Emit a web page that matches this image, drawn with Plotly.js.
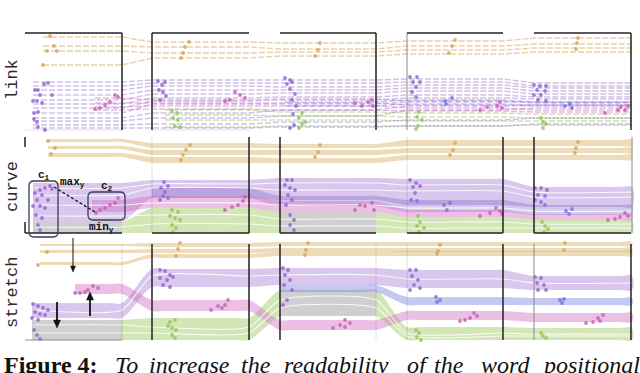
<!DOCTYPE html>
<html lang="en">
<head>
    <meta charset="UTF-8">
    <title>Word positional streams: link / curve / stretch</title>
    <script src="https://cdn.plot.ly/plotly-3.0.0.min.js" charset="utf-8"></script>
    <style>
        body { margin: 0; background: #fff; }
        #plot { width: 640px; height: 373px; }
    </style>
</head>
<body>
<div id="plot"></div>

<script>
    // Paragraph segments along the x axis
    const segStart = [25, 152, 280, 407, 534];
    const segEnd   = [122, 249, 376, 503, 632];

    // ---- link row: lane depth of each word per segment (null = not present)
    const linkTan = [
        [37, 42, 43, 41, 38],
        [46, 47, 49, 46, 44],
        [51, 53, 52, 50, 48],
        [65, 58, 56, 54, 52]
    ];
    const linkPurple = [
        [82, 80, 80, 79, 83],
        [86, 83, 83, 82, 86],
        [90, 86, 87, 85, 88],
        [95, 90, 90, 88, 91],
        [100, 94, 93, 91, 94],
        [104, 98, 97, 95, 97],
        [108, 101, 100, 98, 99],
        [113, 104, 104, 102, 102],
        [118, 113, 110, 106, 105],
        [121, 118, 116, 110, 108],
        [125, 124, 122, 120, 118],
        [128, 128, 127, 126, 124]
    ];
    const linkPink = [
        [98, 100, 99, 101, 103],
        [103, 103, 103, 105, 106],
        [107, 106, 106, 108, 110],
        [110, 109, 110, 111, 112]
    ];
    const linkGreen = [
        [null, 110, 112, 113, 114],
        [null, 115, 116, 117, 118],
        [null, 120, 120, 121, 121],
        [null, 127, 126, 126, 125]
    ];
    const linkBlue = [
        [null, null, 102, 100, 102],
        [null, null, 106, 104, 105]
    ];

    // word dots [x, depth]
    const linkDotsTan = [[50,36],[54,46],[57,51],[47,51],[43,65],[189,42],[185,47],[183,53],[181,58],
        [320,43],[318,50],[315,56],[455,40],[452,46],[449,53],[578,38],[577,43],[576,49]];
    const linkDotsPurple = [[48,83],[44,84],[38,90],[35,90],[40,95],[52,95],[33,101],[37,101],[42,103],
        [34,113],[38,112],[34,119],[37,122],[38,127],[45,130],[158,81],[165,82],[162,85],[159,90],
        [163,92],[166,96],[160,100],[285,78],[290,80],[287,84],[292,82],[290,89],[295,94],[292,100],
        [296,106],[293,114],[294,125],[290,128],[410,77],[417,77],[413,82],[420,82],[416,87],[412,92],
        [416,97],[534,85],[540,86],[546,86],[537,90],[545,91],[534,95],[541,95],[538,100],[546,101]];
    const linkDotsPink = [[115,95],[118,97],[110,102],[105,105],[100,108],[95,109],[235,92],[240,95],
        [245,98],[230,100],[225,101],[355,103],[362,106],[368,102],[372,100],[373,106],[500,102],
        [497,106],[502,108],[487,107],[480,110],[621,107],[625,110],[628,106],[618,110],[605,113]];
    const linkDotsGreen = [[172,111],[177,113],[173,118],[178,120],[175,126],[180,127],[302,113],
        [299,118],[302,124],[305,122],[299,128],[419,112],[417,117],[422,120],[418,126],[416,129],
        [541,118],[543,122],[546,124],[543,128]];
    const linkDotsBlue = [[445,101],[452,98],[446,104],[565,106],[570,104],[572,108]];

    // ---- curve row: band top / bottom depth per segment
    const curveTanTop = [[139, 143, 144, 140, 140], [146, 150, 150, 148, 148], [153, 157, 158, 155, 155]];
    const curveTanBot = [[142, 148, 148, 146, 146], [149, 155, 155, 153, 153], [157, 163, 163, 160, 160]];
    const curvePurpleTop = [183, 180, 178, 179, 187];
    const curvePurpleBot = [222, 198, 200, 205, 207];
    const curveVioletTop = [null, 188, 196, 200, 205];
    const curveVioletBot = [null, 198, 206, 212, 215];
    const curvePinkTop = [200, 196, 201, 210, 214];
    const curvePinkBot = [212, 208, 212, 217, 220];
    const curveGreenTop = [222, 208, 212, 217, 220];
    const curveGreenBot = [233, 233, 233, 233, 233];
    const curveGrayTop = [222, null, 212, null, null];
    const curveGrayBot = [233, null, 233, null, null];
    const curveLanes = [
        [188, 184, 183, 185, 192],
        [195, 188, 190, 191, 197],
        [205, 203, 205, 208, 211],
        [216, 215, 219, 222, 224],
        [227, 224, 226, 228, 228]
    ];

    const curveDotsTan = [[48,141],[55,148],[51,154],[190,145],[186,150],[183,155],[181,160],
        [320,145],[318,152],[315,157],[455,143],[453,150],[450,155],[578,142],[576,148],[575,153]];
    const curveDotsPurple = [[50,186],[45,188],[40,190],[52,189],[35,193],[42,195],[37,200],[48,200],
        [33,206],[40,206],[45,208],[36,215],[42,218],[38,225],[40,230],[164,182],[168,186],[161,188],
        [165,192],[163,196],[168,198],[160,200],[287,180],[292,180],[285,185],[290,188],[295,190],
        [288,195],[292,200],[286,205],[290,215],[294,220],[290,225],[294,230],[410,180],[416,183],
        [413,187],[420,186],[415,193],[411,200],[417,201],[535,188],[541,188],[547,190],[538,195],
        [545,196],[535,200],[541,202],[545,205]];
    const curveDotsPink = [[118,198],[115,203],[110,205],[105,208],[100,210],[96,213],[245,197],
        [243,201],[238,205],[232,207],[225,210],[360,205],[365,206],[372,203],[374,210],[355,210],
        [496,208],[500,211],[502,214],[490,213],[480,216],[625,213],[628,216],[620,217],[608,220],[615,219]];
    const curveDotsGreen = [[172,210],[178,212],[170,216],[175,218],[180,220],[172,225],[176,228],
        [173,232],[418,216],[420,222],[417,226],[424,228],[419,232],[542,222],[545,226],[548,229],[544,232]];
    const curveDotsBlue = [[444,205],[450,203],[447,210],[566,211],[572,209],[569,214]];

    // ---- stretch row
    const stretchTanTop = [[244, 243, 242, 242, 242], [250, 249, 248, 248, 248], [262, 254, 252, 251, 251]];
    const stretchTanBot = [[246, 247, 246, 246, 246], [253, 253, 252, 252, 252], [265, 258, 256, 256, 256]];
    const stretchPurpleTop = [303, 269, 268, 270, 276];
    const stretchPurpleBot = [318, 287, 285, 288, 290];
    const stretchPinkTop = [284, 300, 320, 311, 313];
    const stretchPinkBot = [294, 311, 330, 320, 322];
    const stretchGreenTop = [320, 318, 290, 327, 328];
    const stretchGreenBot = [340, 340, 316, 340, 340];
    const stretchGrayTop = [320, null, 290, null, null];
    const stretchGrayBot = [340, null, 316, null, null];
    const stretchBlueTop = [null, null, 285, 297, 298];
    const stretchBlueBot = [null, null, 292, 305, 305];
    const stretchLanes = [
        [310, 276, 275, 279, 283],
        [325, 327, 300, 333, 334],
        [333, 333, 308, 336, 336]
    ];

    const stretchDotsTan = [[47,252],[38,265],[180,243],[178,249],[176,256],[308,243],[306,250],
        [305,255],[440,245],[438,251],[437,254],[565,243],[564,250]];
    const stretchDotsPurple = [[33,304],[38,306],[43,308],[48,310],[35,312],[40,314],[45,315],[32,318],
        [38,320],[34,330],[37,335],[40,339],[160,270],[165,271],[170,275],[160,278],[167,280],[163,285],
        [170,287],[173,277],[283,268],[288,270],[285,275],[290,280],[284,285],[292,290],[287,300],
        [283,305],[410,270],[416,270],[412,276],[418,280],[414,285],[420,288],[410,290],[535,277],
        [541,278],[537,283],[544,285],[538,290],[546,290]];
    const stretchDotsPink = [[93,286],[98,288],[88,290],[85,292],[80,293],[75,293],[228,300],[225,305],
        [222,308],[218,306],[211,310],[345,320],[350,323],[345,327],[340,325],[333,328],[474,313],
        [477,316],[470,318],[465,320],[460,321],[603,315],[598,318],[600,321],[593,322],[586,323]];
    const stretchDotsGreen = [[170,322],[175,320],[168,326],[172,328],[176,330],[172,335],[175,338],
        [416,330],[419,333],[417,337],[421,340],[541,333],[543,336],[546,338]];
    const stretchDotsBlue = [[436,297],[440,300],[437,302],[560,300],[564,299],[562,303]];

    // caption words and their left edges
    const captionWords = ['To', 'increase', 'the', 'readability', 'of', 'the', 'word', 'positional'];
    const captionX = [113, 147, 239, 282, 405, 432, 479, 540];

    const COL = {
        tanBand: 'rgba(224,190,125,0.55)', tanLine: 'rgba(214,172,95,0.55)', tanDot: '#d6a85a',
        purpleBand: 'rgba(170,130,215,0.45)', purpleLine: 'rgba(145,105,205,0.42)', purpleDot: '#9467cf',
        violetBand: 'rgba(130,100,200,0.35)',
        pinkBand: 'rgba(210,115,195,0.45)', pinkLine: 'rgba(205,100,185,0.45)', pinkDot: '#c862b8',
        greenBand: 'rgba(165,205,110,0.5)', greenLine: 'rgba(150,195,95,0.5)', greenDot: '#97c55a',
        blueBand: 'rgba(125,135,225,0.45)', blueLine: 'rgba(115,125,220,0.45)', blueDot: '#7278d8',
        grayBand: 'rgba(205,205,208,0.92)'
    };

    const INSET = 12;

    // knots of one edge along consecutive segments i..j
    function edgeKnots(vals, i, j, x0) {
        const xs = [], ys = [];
        for (let k = i; k <= j; k++) {
            const a = (k === i && x0 != null) ? x0 : segStart[k];
            const b = segEnd[k];
            xs.push(a, a + INSET, b - INSET, b);
            ys.push(vals[k], vals[k], vals[k], vals[k]);
        }
        return { xs, ys };
    }

    function bandTraces(tops, bots, startX, color, axis) {
        const out = [];
        let i = 0, first = true;
        while (i < 5) {
            if (tops[i] == null) { i++; continue; }
            let j = i;
            while (j + 1 < 5 && tops[j + 1] != null) j++;
            const x0 = first ? startX : null;
            const t = edgeKnots(tops, i, j, x0);
            const b = edgeKnots(bots, i, j, x0);
            out.push({
                type: 'scatter', mode: 'lines', yaxis: axis,
                x: t.xs.concat(b.xs.slice().reverse()),
                y: t.ys.concat(b.ys.slice().reverse()),
                fill: 'toself', fillcolor: color,
                line: { width: 0, shape: j > i ? 'spline' : 'linear', smoothing: 1 },
                hoverinfo: 'skip', showlegend: false
            });
            first = false;
            i = j + 1;
        }
        return out;
    }

    function laneTrace(vals, startX, color, axis, opts) {
        let i = vals.findIndex(v => v != null);
        const xs = [], ys = [];
        for (let k = i; k < 5; k++) {
            xs.push(k === i && startX != null ? startX : segStart[k], segEnd[k]);
            ys.push(vals[k], vals[k]);
        }
        return Object.assign({
            type: 'scatter', mode: 'lines', yaxis: axis, x: xs, y: ys,
            line: { color: color, width: 1.4, dash: '6px,2px' },
            hoverinfo: 'skip', showlegend: false
        }, opts || {});
    }

    function dotTrace(pts, color, axis) {
        return {
            type: 'scatter', mode: 'markers', yaxis: axis,
            x: pts.map(p => p[0]), y: pts.map(p => p[1]),
            marker: { size: 3.8, color: color, opacity: 0.85 },
            cliponaxis: false, hoverinfo: 'skip', showlegend: false
        };
    }

    const traces = [];

    // link row
    linkGreen.forEach(l => traces.push(laneTrace(l, 165, COL.greenLine, 'y')));
    linkPurple.forEach(l => traces.push(laneTrace(l, 33, COL.purpleLine, 'y')));
    linkPink.forEach(l => traces.push(laneTrace(l, 95, COL.pinkLine, 'y')));
    linkBlue.forEach(l => traces.push(laneTrace(l, 285, COL.blueLine, 'y')));
    linkTan.forEach(l => traces.push(laneTrace(l, 43, COL.tanLine, 'y')));
    traces.push(dotTrace(linkDotsGreen, COL.greenDot, 'y'));
    traces.push(dotTrace(linkDotsPurple, COL.purpleDot, 'y'));
    traces.push(dotTrace(linkDotsPink, COL.pinkDot, 'y'));
    traces.push(dotTrace(linkDotsBlue, COL.blueDot, 'y'));
    traces.push(dotTrace(linkDotsTan, COL.tanDot, 'y'));

    // curve row
    traces.push(...bandTraces(curveGreenTop, curveGreenBot, 33, COL.greenBand, 'y2'));
    traces.push(...bandTraces(curveGrayTop, curveGrayBot, 33, COL.grayBand, 'y2'));
    traces.push(...bandTraces(curvePurpleTop, curvePurpleBot, 33, COL.purpleBand, 'y2'));
    traces.push(...bandTraces(curveVioletTop, curveVioletBot, null, COL.violetBand, 'y2'));
    traces.push(...bandTraces(curvePinkTop, curvePinkBot, 92, COL.pinkBand, 'y2'));
    curveTanTop.forEach((t, n) => traces.push(...bandTraces(t, curveTanBot[n], 48, COL.tanBand, 'y2')));
    curveLanes.forEach(l => traces.push(laneTrace(l, 35, 'rgba(255,255,255,0.85)', 'y2',
        { line: { color: 'rgba(255,255,255,0.85)', width: 1.1, shape: 'spline', smoothing: 0.6 } })));
    traces.push(dotTrace(curveDotsGreen, COL.greenDot, 'y2'));
    traces.push(dotTrace(curveDotsPurple, COL.purpleDot, 'y2'));
    traces.push(dotTrace(curveDotsPink, COL.pinkDot, 'y2'));
    traces.push(dotTrace(curveDotsBlue, COL.blueDot, 'y2'));
    traces.push(dotTrace(curveDotsTan, COL.tanDot, 'y2'));

    // stretch row
    traces.push(...bandTraces(stretchGreenTop, stretchGreenBot, 32, COL.greenBand, 'y3'));
    traces.push(...bandTraces(stretchGrayTop, stretchGrayBot, 32, COL.grayBand, 'y3'));
    traces.push(...bandTraces(stretchPurpleTop, stretchPurpleBot, 32, COL.purpleBand, 'y3'));
    traces.push(...bandTraces(stretchBlueTop, stretchBlueBot, null, COL.blueBand, 'y3'));
    traces.push(...bandTraces(stretchPinkTop, stretchPinkBot, 75, COL.pinkBand, 'y3'));
    stretchTanTop.forEach((t, n) => traces.push(...bandTraces(t, stretchTanBot[n], 40, COL.tanBand, 'y3')));
    stretchLanes.forEach(l => traces.push(laneTrace(l, 34, 'rgba(255,255,255,0.85)', 'y3',
        { line: { color: 'rgba(255,255,255,0.85)', width: 1.1, shape: 'spline', smoothing: 0.6 } })));
    traces.push(dotTrace(stretchDotsGreen, COL.greenDot, 'y3'));
    traces.push(dotTrace(stretchDotsPurple, COL.purpleDot, 'y3'));
    traces.push(dotTrace(stretchDotsPink, COL.pinkDot, 'y3'));
    traces.push(dotTrace(stretchDotsBlue, COL.blueDot, 'y3'));
    traces.push(dotTrace(stretchDotsTan, COL.tanDot, 'y3'));

    // frame lines around the segments
    const DARK = '#222', MID = '#8a8a8a', FAINT = 'rgba(0,0,0,0.12)';
    const frames = [
        // link
        ['y', 25, 33, 122, 33, DARK], ['y', 122, 33, 122, 130, DARK], ['y', 152, 33, 152, 130, DARK],
        ['y', 152, 33, 249, 33, DARK], ['y', 280, 33, 376, 33, DARK], ['y', 376, 33, 376, 130, DARK],
        ['y', 407, 33, 407, 130, MID], ['y', 407, 33, 503, 33, DARK], ['y', 534, 33, 631, 33, DARK],
        ['y', 631, 33, 631, 130, DARK], ['y', 25, 130, 122, 130, FAINT], ['y', 152, 130, 249, 130, FAINT],
        // curve
        ['y2', 25, 137, 25, 147, DARK], ['y2', 25, 222, 25, 233, DARK], ['y2', 25, 233, 122, 233, DARK],
        ['y2', 152, 137, 152, 233, FAINT], ['y2', 152, 233, 249, 233, DARK], ['y2', 249, 137, 249, 233, DARK],
        ['y2', 280, 137, 280, 233, DARK], ['y2', 280, 233, 376, 233, DARK], ['y2', 407, 137, 407, 233, FAINT],
        ['y2', 407, 233, 503, 233, DARK], ['y2', 503, 137, 503, 233, DARK], ['y2', 534, 137, 534, 233, DARK],
        ['y2', 534, 233, 631, 233, DARK], ['y2', 632, 137, 632, 233, MID],
        // stretch
        ['y3', 25, 340, 122, 340, MID], ['y3', 122, 244, 122, 340, FAINT], ['y3', 152, 244, 152, 340, DARK],
        ['y3', 249, 244, 249, 340, DARK], ['y3', 280, 244, 280, 340, DARK], ['y3', 376, 244, 376, 340, FAINT],
        ['y3', 407, 244, 407, 340, FAINT], ['y3', 503, 244, 503, 340, DARK], ['y3', 534, 244, 534, 340, MID],
        ['y3', 631, 244, 631, 340, DARK]
    ];
    const shapes = frames.map(f => ({
        type: 'line', xref: 'x', yref: f[0], x0: f[1], y0: f[2], x1: f[3], y1: f[4],
        line: { color: f[5], width: f[5] === DARK ? 1.5 : 1 }, layer: 'above'
    }));

    function roundRect(x0, y0, x1, y1, r) {
        return `M${x0 + r},${y0} L${x1 - r},${y0} Q${x1},${y0} ${x1},${y0 + r} L${x1},${y1 - r} ` +
            `Q${x1},${y1} ${x1 - r},${y1} L${x0 + r},${y1} Q${x0},${y1} ${x0},${y1 - r} ` +
            `L${x0},${y0 + r} Q${x0},${y0} ${x0 + r},${y0} Z`;
    }
    shapes.push(
        { type: 'path', xref: 'x', yref: 'y2', path: roundRect(29, 181, 58, 237, 5),
          line: { color: '#3b3b5c', width: 1.3 }, layer: 'above' },
        { type: 'path', xref: 'x', yref: 'y2', path: roundRect(88, 192, 125, 220, 5),
          line: { color: '#3b3b5c', width: 1.3 }, layer: 'above' },
        { type: 'line', xref: 'x', yref: 'y2', x0: 54, y0: 187, x1: 95, y1: 212,
          line: { color: '#1e1e2e', width: 1.4, dash: '3px,2px' }, layer: 'above' }
    );

    // arrows: shaft + filled head (dir = +1 points down, -1 points up)
    function addArrow(x, yTail, yHead, w, hw, hl) {
        const dir = yHead > yTail ? 1 : -1;
        shapes.push({ type: 'line', xref: 'x', yref: 'y3', x0: x, y0: yTail, x1: x, y1: yHead - dir * hl * 0.6,
            line: { color: '#111', width: w }, layer: 'above' });
        shapes.push({ type: 'path', xref: 'x', yref: 'y3',
            path: `M${x - hw},${yHead - dir * hl} L${x},${yHead} L${x + hw},${yHead - dir * hl} Z`,
            fillcolor: '#111', line: { color: '#111', width: 0.5 }, layer: 'above' });
    }
    addArrow(73, 238, 272, 1, 2.5, 6);
    addArrow(57, 302, 328, 1.8, 3.5, 8);
    addArrow(90, 316, 292, 1.8, 3.5, 8);

    const mono = 'Liberation Mono, Courier New, monospace';
    const serif = 'Liberation Serif, Times New Roman, serif';
    const annotations = [
        { text: 'link', y: 80 },
        { text: 'curve', y: 187 },
        { text: 'stretch', y: 293 }
    ].map(a => ({
        text: a.text, xref: 'x', yref: 'paper', x: 12, y: 1 - a.y / 373, textangle: -90,
        xanchor: 'center', yanchor: 'middle',
        showarrow: false, font: { family: mono, size: 17, color: '#2a2a2a' }
    }));

    const small = (text, x, y) => ({
        text: text, xref: 'x', yref: 'y2', x: x, y: y, showarrow: false,
        xanchor: 'center', yanchor: 'middle',
        font: { family: mono, size: 11, color: '#111', weight: 'bold' }
    });
    annotations.push(
        small('c<sub>1</sub>', 44, 175),
        small('max<sub>y</sub>', 72, 182),
        small('c<sub>2</sub>', 107, 186),
        small('min<sub>y</sub>', 101, 227)
    );

    // caption
    const capY = 1 - 365 / 373;
    const capFont = { family: serif, size: 24, color: '#111' };
    annotations.push({
        text: '<b>Figure 4:</b>', xref: 'x', yref: 'paper', x: 2, y: capY, xanchor: 'left',
        yanchor: 'middle', showarrow: false, font: capFont
    });
    captionWords.forEach((w, i) => annotations.push({
        text: '<i>' + w + '</i>', xref: 'x', yref: 'paper', x: captionX[i], y: capY, xanchor: 'left',
        yanchor: 'middle', showarrow: false, font: capFont
    }));

    const hidden = { visible: false, showgrid: false, zeroline: false, fixedrange: true };
    const layout = {
        width: 640, height: 373,
        margin: { l: 0, r: 0, t: 0, b: 0 },
        paper_bgcolor: '#fff', plot_bgcolor: 'rgba(0,0,0,0)',
        showlegend: false,
        xaxis: Object.assign({ range: [0, 640], domain: [0, 1] }, hidden),
        yaxis: Object.assign({ range: [134, 22], domain: [1 - 134 / 373, 1 - 22 / 373] }, hidden),
        yaxis2: Object.assign({ range: [238, 134], domain: [1 - 238 / 373, 1 - 134 / 373] }, hidden),
        yaxis3: Object.assign({ range: [344, 238], domain: [1 - 344 / 373, 1 - 238 / 373] }, hidden),
        shapes: shapes,
        annotations: annotations
    };

    Plotly.newPlot('plot', traces, layout, { staticPlot: true, displayModeBar: false });
</script>
</body>
</html>
